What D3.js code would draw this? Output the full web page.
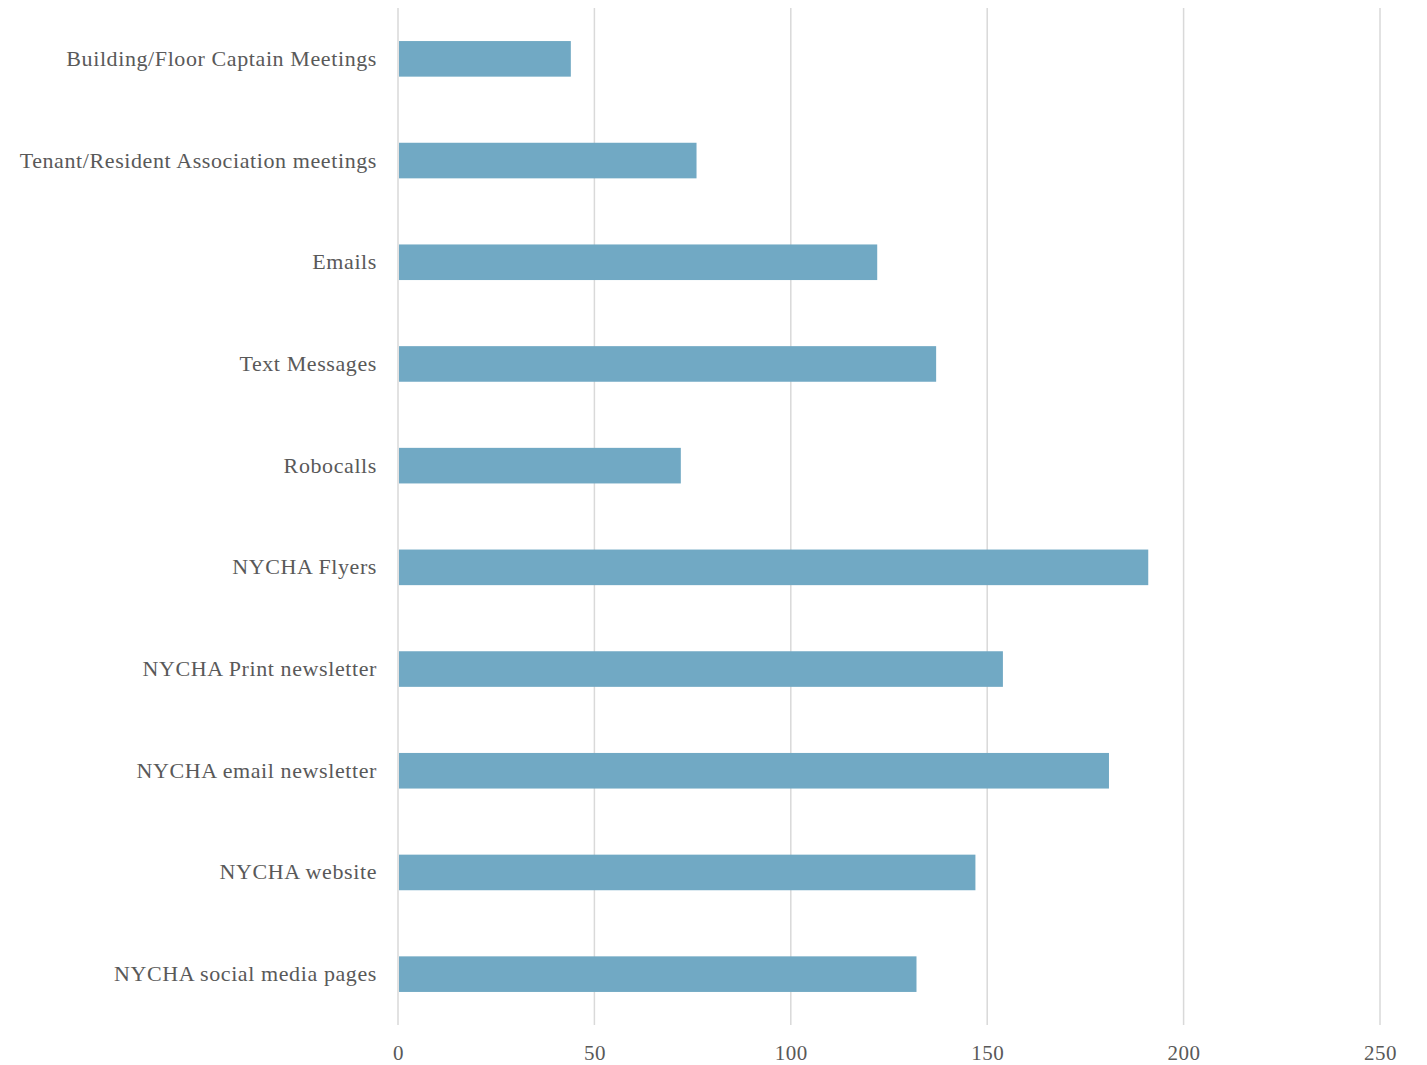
<!DOCTYPE html>
<html>
  <head>
    <meta charset="UTF-8">
    <title>NYCHA communication channels</title>
    <script src="https://d3js.org/d3.v7.min.js" charset="utf-8"></script>
    <style>
      body { margin: 0; background: #fff; }
    </style>
  </head>
  <body>
    <script>
        var w = 1427;
        var h = 1065;

        // data, top to bottom
        var categories = [
            "Building/Floor Captain Meetings",
            "Tenant/Resident Association meetings",
            "Emails",
            "Text Messages",
            "Robocalls",
            "NYCHA Flyers",
            "NYCHA Print newsletter",
            "NYCHA email newsletter",
            "NYCHA website",
            "NYCHA social media pages"
        ];
        var counts = [44, 76, 122, 137, 72, 191, 154, 181, 147, 132];
        var xTicks = [0, 50, 100, 150, 200, 250];

        var margin = {top: 8, right: 47, bottom: 40, left: 398};
        var fontFam = "'Liberation Serif', 'DejaVu Serif', serif";
        var textCol = "#595959";

        var svg = d3.select("body").append("svg")
            .attr("width", w)
            .attr("height", h);

        var x = d3.scaleLinear()
            .domain([0, 250])
            .range([margin.left, w - margin.right]);

        var y = d3.scaleBand()
            .domain(categories)
            .range([margin.top, h - margin.bottom])
            .paddingInner(0.65)
            .paddingOuter(0.325);

        //gridlines
        svg.append("g")
            .selectAll("line")
            .data(xTicks)
            .enter()
            .append("line")
            .attr("x1", function(d){ return x(d); })
            .attr("x2", function(d){ return x(d); })
            .attr("y1", margin.top)
            .attr("y2", h - margin.bottom)
            .attr("stroke", "#d9d9d9")
            .attr("stroke-width", 1.5);

        //bars
        svg.append("g")
            .selectAll("rect")
            .data(counts)
            .enter()
            .append("rect")
            .attr("x", x(0) + 1)
            .attr("y", function(d, i){ return y(categories[i]); })
            .attr("width", function(d){ return x(d) - x(0) - 1; })
            .attr("height", y.bandwidth())
            .attr("fill", "#71a9c4");

        //x axis labels
        var xAxis = d3.axisBottom(x)
            .tickValues(xTicks)
            .tickSize(0)
            .tickPadding(20);

        var gx = svg.append("g")
            .attr("transform", "translate(0," + (h - margin.bottom) + ")")
            .call(xAxis);
        gx.select(".domain").remove();
        gx.selectAll("text")
            .attr("font-family", fontFam)
            .attr("font-size", "21px")
            .attr("letter-spacing", "0.5px")
            .attr("fill", textCol);

        //category labels
        var yAxis = d3.axisLeft(y)
            .tickSize(0)
            .tickPadding(21);

        var gy = svg.append("g")
            .attr("transform", "translate(" + margin.left + ",0)")
            .call(yAxis);
        gy.select(".domain").remove();
        gy.selectAll("text")
            .attr("font-family", fontFam)
            .attr("font-size", "22px")
            .attr("letter-spacing", "0.6px")
            .attr("fill", textCol);
    </script>
  </body>
</html>
